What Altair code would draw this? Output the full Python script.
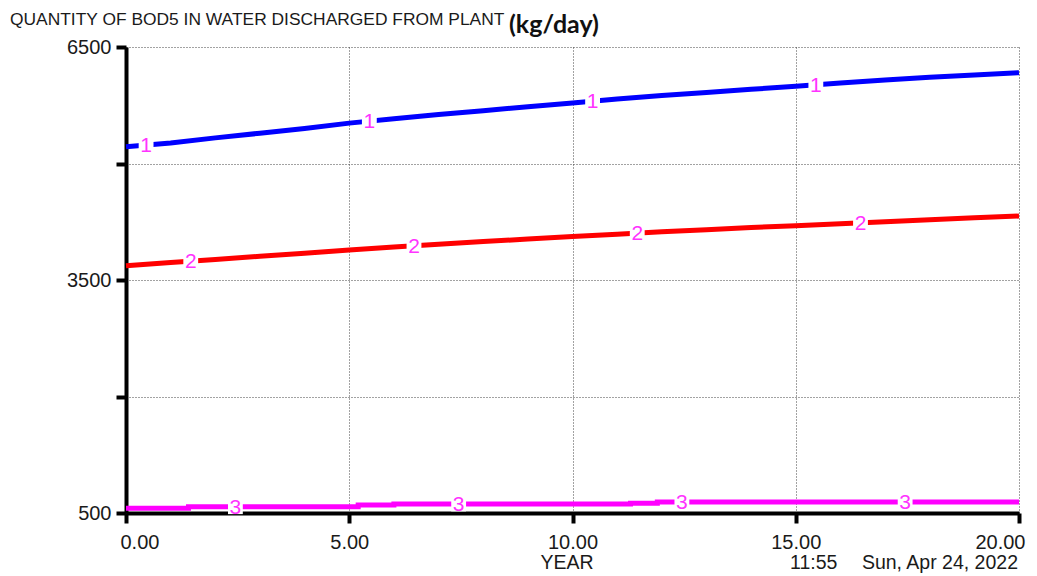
import altair as alt
import pandas as pd
import numpy as np

# ---- data ----
years = list(range(21))
bod_1 = [5216, 5265, 5330, 5390, 5450, 5520, 5575, 5630, 5680, 5730, 5780,
         5830, 5875, 5915, 5955, 5995, 6035, 6075, 6110, 6140, 6170]
bod_2 = [3684, 3725, 3765, 3805, 3845, 3886, 3925, 3960, 3995, 4028, 4060,
         4090, 4120, 4148, 4175, 4200, 4225, 4250, 4275, 4300, 4324]
years_3 = [0, 1.4, 5.2, 6.0, 11.3, 11.9, 20]
bod_3 = [561, 581, 603, 616, 625, 642, 642]

label_x_1 = [0.45, 5.45, 10.45, 15.45]
label_x_2 = [1.45, 6.45, 11.45, 16.45]
label_x_3 = [2.45, 7.45, 12.45, 17.45]

y_ticks = [500, 2000, 3500, 5000, 6500]
x_ticks = [0, 5, 10, 15, 20]

title_main = "QUANTITY OF BOD5 IN WATER DISCHARGED FROM PLANT"
title_unit = "(kg/day)"
x_title = "YEAR"
time_stamp = "11:55"
date_stamp = "Sun, Apr 24, 2022"

# ---- tables ----
df1 = pd.DataFrame({"t": years, "v": bod_1})
df2 = pd.DataFrame({"t": years, "v": bod_2})
df3 = pd.DataFrame({"t": years_3, "v": bod_3})


def step_val(xs, ys, x):
    i = int(np.searchsorted(xs, x, side="right")) - 1
    return ys[max(i, 0)]


labels = pd.DataFrame({
    "t": label_x_1 + label_x_2 + label_x_3,
    "v": list(np.interp(label_x_1, years, bod_1))
    + list(np.interp(label_x_2, years, bod_2))
    + [step_val(years_3, bod_3, x) for x in label_x_3],
    "lab": ["1"] * 4 + ["2"] * 4 + ["3"] * 4,
})

xs = alt.Scale(domain=[0, 20], nice=False, zero=False)
ys = alt.Scale(domain=[500, 6500], nice=False, zero=False)

x_axis = alt.Axis(values=x_ticks, format=".2f", title=None,
                  domainColor="black", domainWidth=4, tickColor="black",
                  tickWidth=4, tickSize=10, labelFont="Liberation Sans",
                  labelFontSize=20, labelColor="#1a1a1a", labelPadding=9,
                  labelFlush=True, labelFlushOffset=6, grid=True, gridColor="#444",
                  gridDash=[1, 2], gridWidth=1)
y_axis = alt.Axis(values=y_ticks, format="d", title=None,
                  labelExpr="(datum.value == 2000 || datum.value == 5000) ? '' : datum.label",
                  domainColor="black", domainWidth=4, tickColor="black",
                  tickWidth=4, tickSize=10, labelFont="Liberation Sans",
                  labelFontSize=20, labelColor="#1a1a1a", labelPadding=5,
                  grid=True, gridColor="#444", gridDash=[1, 2], gridWidth=1)

base_x = alt.X("t:Q", scale=xs, axis=x_axis)
base_y = alt.Y("v:Q", scale=ys, axis=y_axis)

line1 = alt.Chart(df1).mark_line(color="#0000ff", strokeWidth=5).encode(x=base_x, y=base_y)
line2 = alt.Chart(df2).mark_line(color="#ff0000", strokeWidth=5).encode(
    x=alt.X("t:Q", scale=xs), y=alt.Y("v:Q", scale=ys))
line3 = alt.Chart(df3).mark_line(color="#ff00ff", strokeWidth=5, interpolate="step-after").encode(
    x=alt.X("t:Q", scale=xs), y=alt.Y("v:Q", scale=ys))

lab_bg = alt.Chart(labels).mark_square(color="white", opacity=1, size=220).encode(
    x=alt.X("t:Q", scale=xs), y=alt.Y("v:Q", scale=ys))
lab_txt = alt.Chart(labels).mark_text(color="#ff33ff", font="Liberation Sans",
                                      fontSize=21, baseline="middle", align="center", dy=1).encode(
    x=alt.X("t:Q", scale=xs), y=alt.Y("v:Q", scale=ys), text="lab:N")

texts = pd.DataFrame({"dummy": [0]})


def txt(s, x, y, size=20, font="Liberation Sans", weight="normal", align="left", color="#1a1a1a"):
    return alt.Chart(texts).mark_text(text=s, font=font, fontSize=size, fontWeight=weight,
                                      align=align, baseline="middle", color=color).encode(
        x=alt.value(x), y=alt.value(y))


t_main = txt(title_main, -116, -27, size=17.4, color="#1a1a1a")
t_unit = txt(title_unit, 383, -22, size=25, font="Lato", weight="bold", color="#111")
t_x = txt(x_title, 441, 516, size=19.5, align="center")
t_time = txt(time_stamp, 664, 516, size=19.5)
t_date = txt(date_stamp, 892, 516, size=19.5, align="right")

chart = alt.layer(line1, line2, line3, lab_bg, lab_txt, t_main, t_unit, t_x, t_time, t_date).properties(
    width=893, height=466,
    autosize=alt.AutoSizeParams(type="none"),
    padding={"left": 118, "top": 39, "right": 10, "bottom": 62},
    background="white",
).configure_view(stroke=None)

chart.save("out.html", embed_options={"renderer": "svg", "actions": False})
